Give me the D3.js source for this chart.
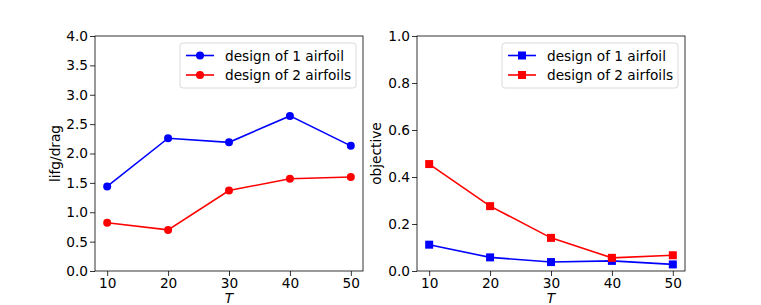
<!DOCTYPE html>
<html>
<head>
<meta charset="utf-8">
<script src="https://cdn.jsdelivr.net/npm/d3@7"></script>
<style>
  body { margin: 0; background: #fff; }
  svg { display: block; }
</style>
</head>
<body>
<div id="chart"></div>
<script>
var T = [10, 20, 30, 40, 50];
var liftOne = [1.44, 2.26, 2.19, 2.64, 2.13];
var liftTwo = [0.82, 0.70, 1.37, 1.57, 1.60];
var objOne = [0.112, 0.058, 0.038, 0.043, 0.028];
var objTwo = [0.455, 0.276, 0.141, 0.056, 0.067];
var xTicks = [10, 20, 30, 40, 50];
var liftTicks = [0, 0.5, 1, 1.5, 2, 2.5, 3, 3.5, 4];
var objTicks = [0, 0.2, 0.4, 0.6, 0.8, 1.0];
var seriesNames = ["design of 1 airfoil", "design of 2 airfoils"];

var width = 761, height = 305;
var font = "DejaVu Sans, sans-serif";
var fs = 13.7;

var svg = d3.select("#chart").append("svg")
    .attr("width", width).attr("height", height);

function panel(cfg) {
    var x = d3.scaleLinear().domain([8, 52]).range([cfg.left, cfg.right]);
    var y = d3.scaleLinear().domain(cfg.ydom).range([271, 36]);
    var g = svg.append("g");

    // axes
    var xa = g.append("g").attr("transform", "translate(0,271)")
        .call(d3.axisBottom(x).tickValues(xTicks).tickSize(5).tickPadding(2).tickFormat(d3.format("d")));
    var ya = g.append("g").attr("transform", "translate(" + cfg.left + ",0)")
        .call(d3.axisLeft(y).tickValues(cfg.ticks).tickSize(5).tickPadding(2).tickFormat(d3.format(".1f")));
    [xa, ya].forEach(function(a) {
        a.select(".domain").remove();
        a.selectAll("text").attr("font-family", font).attr("font-size", fs).attr("fill", "#000");
        a.selectAll("line").attr("stroke", "#000").attr("stroke-width", 0.8);
    });

    g.append("rect")
        .attr("x", cfg.left).attr("y", 36)
        .attr("width", cfg.right - cfg.left).attr("height", 235)
        .attr("fill", "none").attr("stroke", "#000").attr("stroke-width", 0.8);

    var line = d3.line().x(function(d, i) { return x(T[i]); }).y(function(d) { return y(d); });
    var colors = ["#0000ff", "#ff0000"];
    cfg.series.forEach(function(s, k) {
        g.append("path").datum(s).attr("d", line)
            .attr("fill", "none").attr("stroke", colors[k]).attr("stroke-width", 1.6);
        var m = g.selectAll(null).data(s).enter();
        if (cfg.marker === "circle") {
            m.append("circle")
                .attr("cx", function(d, i) { return x(T[i]); })
                .attr("cy", function(d) { return y(d); })
                .attr("r", 4).attr("fill", colors[k]);
        } else {
            m.append("rect")
                .attr("x", function(d, i) { return x(T[i]) - 4; })
                .attr("y", function(d) { return y(d) - 4; })
                .attr("width", 8).attr("height", 8).attr("fill", colors[k]);
        }
    });

    // x label
    g.append("text").attr("x", (cfg.left + cfg.right) / 2).attr("y", 303)
        .attr("text-anchor", "middle").attr("font-family", font).attr("font-size", fs)
        .attr("font-style", "italic").text("T");
    // y label
    g.append("text")
        .attr("transform", "translate(" + cfg.ylabX + "," + ((36 + 271) / 2) + ") rotate(-90)")
        .attr("text-anchor", "middle").attr("font-family", font).attr("font-size", fs)
        .text(cfg.ylabel);

    // legend
    var lg = g.append("g");
    lg.append("rect").attr("x", cfg.legX).attr("y", 43).attr("width", 176).attr("height", 45)
        .attr("rx", 3).attr("fill", "#fff").attr("fill-opacity", 0.8)
        .attr("stroke", "#d0d0d0").attr("stroke-width", 0.8);
    seriesNames.forEach(function(name, k) {
        var ly = 55.5 + k * 19.5;
        lg.append("line").attr("x1", cfg.legX + 6).attr("x2", cfg.legX + 34)
            .attr("y1", ly).attr("y2", ly).attr("stroke", colors[k]).attr("stroke-width", 1.6);
        if (cfg.marker === "circle") {
            lg.append("circle").attr("cx", cfg.legX + 20).attr("cy", ly).attr("r", 4).attr("fill", colors[k]);
        } else {
            lg.append("rect").attr("x", cfg.legX + 16).attr("y", ly - 4).attr("width", 8).attr("height", 8).attr("fill", colors[k]);
        }
        lg.append("text").attr("x", cfg.legX + 45).attr("y", ly + 5)
            .attr("font-family", font).attr("font-size", fs).text(name);
    });
}

panel({ left: 95, right: 363, ydom: [0, 4], ticks: liftTicks, series: [liftOne, liftTwo],
        marker: "circle", ylabel: "lifg/drag", ylabX: 60, legX: 180 });
panel({ left: 417, right: 685, ydom: [0, 1], ticks: objTicks, series: [objOne, objTwo],
        marker: "square", ylabel: "objective", ylabX: 381, legX: 502 });
</script>
</body>
</html>
